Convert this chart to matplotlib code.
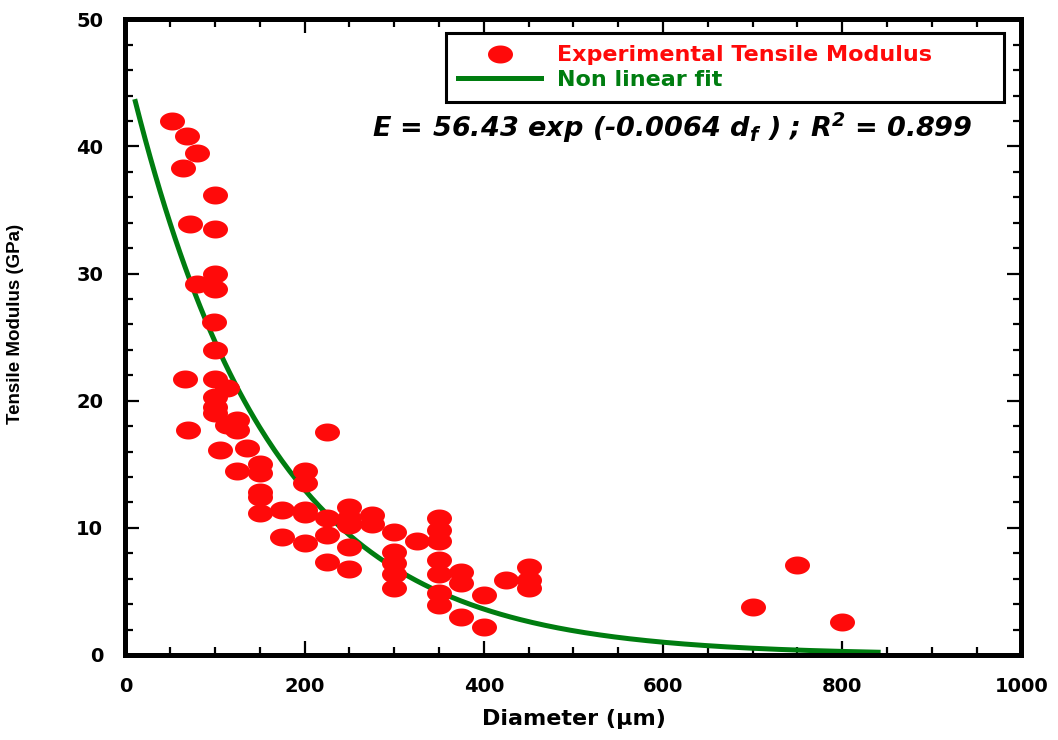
import numpy as np
import matplotlib
matplotlib.use("Agg")
import matplotlib.pyplot as plt
from matplotlib.path import Path
from matplotlib.ticker import MultipleLocator

# fibre diameter (um) and measured tensile modulus (GPa)
diameter = [52, 69, 80, 64, 100, 72, 100, 100, 80, 100, 99, 100, 66, 100, 113,
            100, 100, 100, 125, 113, 125, 70, 105, 136, 225, 125, 150, 150, 200,
            200, 150, 150, 150, 175, 200, 200, 225, 250, 250, 275, 275, 250, 225,
            300, 175, 200, 250, 325, 350, 350, 350, 300, 300, 350, 225, 250, 300,
            375, 350, 300, 375, 425, 450, 450, 450, 350, 350, 400, 375, 400, 700,
            750, 800]
modulus = [42.0, 40.8, 39.5, 38.3, 36.2, 33.9, 33.5, 30.0, 29.2, 28.8, 26.2, 24.0,
           21.7, 21.7, 21.0, 20.3, 19.5, 19.0, 18.5, 18.1, 17.7, 17.7, 16.1, 16.3,
           17.5, 14.5, 15.0, 14.3, 14.5, 13.5, 12.8, 12.4, 11.2, 11.4, 11.4, 11.1,
           10.8, 11.6, 10.8, 11.0, 10.3, 10.2, 9.4, 9.7, 9.3, 8.8, 8.5, 9.0, 10.8,
           9.8, 9.0, 8.1, 7.2, 7.5, 7.3, 6.8, 6.4, 6.5, 6.4, 5.3, 5.7, 5.9, 6.9,
           5.9, 5.3, 4.9, 3.9, 4.7, 3.0, 2.2, 3.8, 7.1, 2.6]

# exponential decay curve
fit_amp = 46.7
fit_rate = 0.0064
fit_range = [11, 840]

legend_labels = ["Experimental Tensile Modulus", "Non linear fit"]
equation = r"E = 56.43 exp (-0.0064 d$_f$ ) ; R$^2$ = 0.899"

RED = "#ff0a0a"
GREEN = "#007d10"


def ellipse_marker(ratio=0.72, n=60):
    t = np.linspace(0, 2 * np.pi, n)
    verts = np.column_stack([np.cos(t), ratio * np.sin(t)])
    return Path(verts, closed=True)


def main():
    plt.rcParams["mathtext.fontset"] = "custom"
    plt.rcParams["mathtext.rm"] = "DejaVu Sans:bold:italic"
    plt.rcParams["mathtext.it"] = "DejaVu Sans:bold:italic"
    plt.rcParams["mathtext.bf"] = "DejaVu Sans:bold:italic"

    fig = plt.figure(figsize=(10.58, 7.40), dpi=100)
    ax = fig.add_axes([0.1186, 0.1149, 0.8469, 0.8591])

    xs = np.linspace(fit_range[0], fit_range[1], 300)
    ax.plot(xs, fit_amp * np.exp(-fit_rate * xs), color=GREEN, lw=3.6,
            label=legend_labels[1], zorder=2)
    ax.plot(diameter, modulus, linestyle="none", marker=ellipse_marker(),
            ms=18, color=RED, mew=0, label=legend_labels[0], zorder=3)

    ax.set_xlim(0, 1000)
    ax.set_ylim(0, 50)
    ax.xaxis.set_major_locator(MultipleLocator(200))
    ax.xaxis.set_minor_locator(MultipleLocator(50))
    ax.yaxis.set_major_locator(MultipleLocator(10))
    ax.yaxis.set_minor_locator(MultipleLocator(2))
    ax.tick_params(which="both", direction="in", top=True, right=True, width=1.6)
    ax.tick_params(which="major", length=10, pad=16, labelsize=14)
    ax.tick_params(which="minor", length=6)
    for lab in ax.get_xticklabels() + ax.get_yticklabels():
        lab.set_fontweight("bold")
        lab.set_family("DejaVu Sans")
    for sp in ax.spines.values():
        sp.set_linewidth(3.6)

    ax.set_xlabel("Diameter (\u03bcm)", fontsize=16, fontweight="bold",
                  family="DejaVu Sans", labelpad=9)
    ax.set_ylabel("Tensile Modulus (GPa)", fontsize=13.5, fontweight="bold",
                  family="Liberation Sans")
    ax.yaxis.set_label_coords(-0.113, 0.521)

    handles, labels = ax.get_legend_handles_labels()
    leg = ax.legend(handles[::-1], labels[::-1], loc="upper left",
                    bbox_to_anchor=(0.358, 0.978, 0.622, 0), mode="expand",
                    borderaxespad=0, fancybox=False, edgecolor="black",
                    framealpha=1, handlelength=3.7, handletextpad=0.75,
                    labelspacing=0.2, borderpad=0.55,
                    prop={"family": "DejaVu Sans", "weight": "bold", "size": 16})
    leg.get_frame().set_linewidth(2.2)
    for txt, col in zip(leg.get_texts(), [RED, GREEN]):
        txt.set_color(col)

    ax.text(0.61, 0.829, equation, transform=ax.transAxes, ha="center",
            va="center", fontsize=19.5, fontweight="bold", fontstyle="italic",
            family="DejaVu Sans")

    plt.savefig("out.png", dpi=100)
    plt.close()


if __name__ == "__main__":
    main()
